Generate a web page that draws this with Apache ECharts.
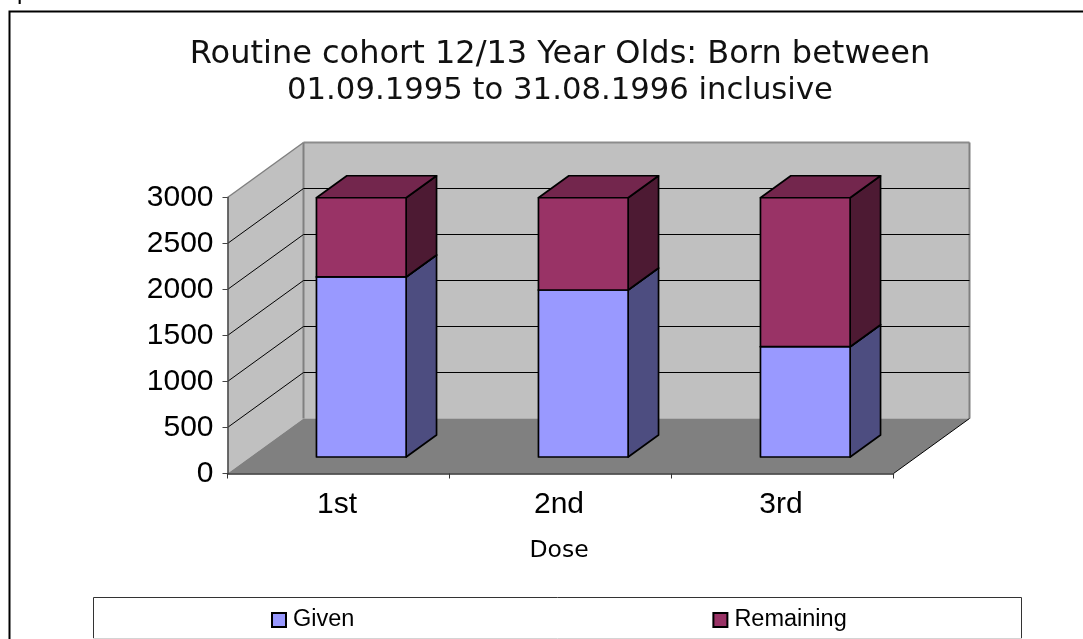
<!DOCTYPE html>
<html>
<head>
	<meta charset="utf-8"/>
	<title>Routine cohort</title>
	<style>
		* {
			margin: 0;
			padding: 0;
		}
		html, body {
			height: 100%;
			background: #fff;
		}
		#main {
			width: 1083px;
			height: 639px;
		}
	</style>
</head>
<body>
	<div id="main"></div>

	<script src="https://cdn.jsdelivr.net/npm/echarts@6/dist/echarts.min.js"></script>
	<script>
		var categories = ['1st', '2nd', '3rd'];
		var given = [1957, 1815, 1199];
		var remaining = [861, 1003, 1619];
		var gridValues = [500, 1000, 1500, 2000, 2500];

		// depth of the fake 3d box, in pixels
		var depthX = 76;
		var depthY = 55;
		// the bars sit between 30% and 70% of the depth
		var barNear = 0.3;
		var barFar = 0.7;
		var barRatio = 0.404;

		var myChart = echarts.init(document.getElementById('main'));

		function poly(points, fill, stroke, lineWidth) {
			return {
				type: 'polygon',
				shape: { points: points },
				style: { fill: fill, stroke: stroke || 'none', lineWidth: lineWidth || 0, lineJoin: 'round' }
			};
		}

		function line(a, b, stroke, lineWidth) {
			return {
				type: 'line',
				shape: { x1: a[0], y1: a[1], x2: b[0], y2: b[1] },
				style: { stroke: stroke, lineWidth: lineWidth }
			};
		}

		function back(p, k) {
			return [p[0] + depthX * k, p[1] - depthY * k];
		}

		function renderWalls(params, api) {
			var half = api.size([1, 0])[0] / 2;
			var lb = api.coord([0, 0]); lb = [lb[0] - half, lb[1]];
			var lt = api.coord([0, 3000]); lt = [lt[0] - half, lt[1]];
			var rb = api.coord([2, 0]); rb = [rb[0] + half, rb[1]];
			var rt = api.coord([2, 3000]); rt = [rt[0] + half, rt[1]];
			return {
				type: 'group',
				children: [
					poly([back(lt, 1), back(rt, 1), back(rb, 1), back(lb, 1)], '#c0c0c0'),
					poly([lt, back(lt, 1), back(lb, 1), lb], '#c0c0c0'),
					poly([lb, rb, back(rb, 1), back(lb, 1)], '#808080'),
					line(lt, back(lt, 1), '#808080', 1.5),
					line(back(lt, 1), back(rt, 1), '#8c8c8c', 2),
					line(back(lt, 1), back(lb, 1), '#808080', 2),
					line(back(rt, 1), back(rb, 1), '#808080', 2),
					line(rb, back(rb, 1), '#000', 1)
				]
			};
		}

		function renderGrid(params, api) {
			var half = api.size([1, 0])[0] / 2;
			var a = api.coord([0, api.value(0)]); a = [a[0] - half, a[1]];
			var b = api.coord([2, api.value(0)]); b = [b[0] + half, b[1]];
			return {
				type: 'group',
				children: [
					line(a, back(a, 1), '#000', 1),
					line(back(a, 1), back(b, 1), '#000', 1)
				]
			};
		}

		function barRenderer(front, side, top) {
			return function (params, api) {
				var low = api.coord([api.value(0), api.value(1)]);
				var high = api.coord([api.value(0), api.value(2)]);
				var w = api.size([1, 0])[0] * barRatio;
				var fl = back([low[0] - w / 2, low[1]], barNear);
				var fr = back([low[0] + w / 2, low[1]], barNear);
				var tl = back([high[0] - w / 2, high[1]], barNear);
				var tr = back([high[0] + w / 2, high[1]], barNear);
				var k = barFar - barNear;
				return {
					type: 'group',
					children: [
						poly([fr, back(fr, k), back(tr, k), tr], side, '#000', 1.7),
						poly([tl, tr, back(tr, k), back(tl, k)], top, '#000', 1.7),
						poly([fl, fr, tr, tl], front, '#000', 1.7)
					]
				};
			};
		}

		var givenData = [];
		var remainingData = [];
		for (var i = 0; i < categories.length; i++) {
			givenData.push([i, 0, given[i]]);
			remainingData.push([i, given[i], given[i] + remaining[i]]);
		}

		var option = {
			animation: false,
			title: [
				{
					text: 'Routine cohort 12/13 Year Olds: Born between',
					left: 555,
					top: 34,
					textAlign: 'center',
					textStyle: {
						fontFamily: 'DejaVu Sans',
						fontWeight: 'normal',
						fontSize: 32,
						color: '#111'
					}
				},
				{
					text: '01.09.1995 to 31.08.1996 inclusive',
					left: 555,
					top: 71,
					textAlign: 'center',
					textStyle: {
						fontFamily: 'DejaVu Sans',
						fontWeight: 'normal',
						fontSize: 30.7,
						color: '#111'
					}
				}
			],
			legend: {
				data: ['Given', 'Remaining'],
				left: 271,
				top: 608,
				padding: 0,
				icon: 'rect',
				itemWidth: 14,
				itemHeight: 14,
				itemGap: 358,
				textStyle: {
					fontFamily: 'Liberation Sans',
					fontSize: 23.5,
					color: '#000',
					padding: [1, 0, 0, 2]
				}
			},
			grid: {
				left: 227.5,
				top: 197.5,
				width: 666,
				height: 276
			},
			xAxis: {
				type: 'category',
				data: categories,
				z: 3,
				name: 'Dose',
				nameLocation: 'middle',
				nameGap: 65,
				nameTextStyle: {
					fontFamily: 'DejaVu Sans',
					fontSize: 23.5,
					color: '#000',
					padding: [0, 3, 0, 0]
				},
				axisLine: { lineStyle: { color: '#333', width: 1.5 } },
				axisTick: { show: true, length: 5, lineStyle: { color: '#333', width: 1 } },
				axisLabel: {
					fontFamily: 'Liberation Sans',
					fontSize: 30,
					color: '#000',
					margin: 16,
					padding: [0, 3, 0, 0]
				}
			},
			yAxis: {
				type: 'value',
				min: 0,
				max: 3000,
				interval: 500,
				z: 3,
				splitLine: { show: false },
				axisLine: { show: true, lineStyle: { color: '#444', width: 1.5 } },
				axisTick: { show: true, length: 5, lineStyle: { color: '#444', width: 1 } },
				axisLabel: {
					fontFamily: 'Liberation Sans',
					fontSize: 30,
					color: '#000',
					margin: 14,
					padding: [4, 0, 0, 0],
					formatter: function (v) { return String(v); }
				}
			},
			series: [
				{
					type: 'custom',
					name: 'walls',
					z: 1,
					silent: true,
					data: [[0]],
					renderItem: renderWalls
				},
				{
					type: 'custom',
					name: 'grid',
					z: 1,
					silent: true,
					data: gridValues.map(function (v) { return [v]; }),
					encode: { y: 0 },
					renderItem: renderGrid
				},
				{
					type: 'custom',
					name: 'Given',
					z: 2,
					itemStyle: { color: '#9999ff', borderColor: '#000', borderWidth: 1.5 },
					encode: { x: 0, y: [1, 2] },
					data: givenData,
					renderItem: barRenderer('#9999ff', '#4d4d80', '#737399')
				},
				{
					type: 'custom',
					name: 'Remaining',
					z: 2,
					itemStyle: { color: '#993366', borderColor: '#000', borderWidth: 1.5 },
					encode: { x: 0, y: [1, 2] },
					data: remainingData,
					renderItem: barRenderer('#993366', '#4d1a33', '#73264d')
				}
			],
			graphic: [
				{
					type: 'polyline',
					shape: { points: [[9.5, 639], [9.5, 11.5], [1083, 11.5]] },
					style: { fill: 'none', stroke: '#000', lineWidth: 2 }
				},
				{
					type: 'polyline',
					shape: { points: [[93.5, 638], [93.5, 597.5], [1021.5, 597.5], [1021.5, 638]] },
					style: { fill: 'none', stroke: '#333', lineWidth: 1 }
				},
				{
					type: 'line',
					shape: { x1: 93, y1: 638.5, x2: 1022, y2: 638.5 },
					style: { stroke: '#d4d4d4', lineWidth: 1 }
				},
				{
					// bit of the text above the chart, only its tail shows at the top edge
					type: 'text',
					x: 17,
					y: -20,
					style: { text: 'p', font: '24px "Liberation Sans"', fill: '#000' }
				}
			]
		};

		myChart.setOption(option);
	</script>
</body>
</html>
